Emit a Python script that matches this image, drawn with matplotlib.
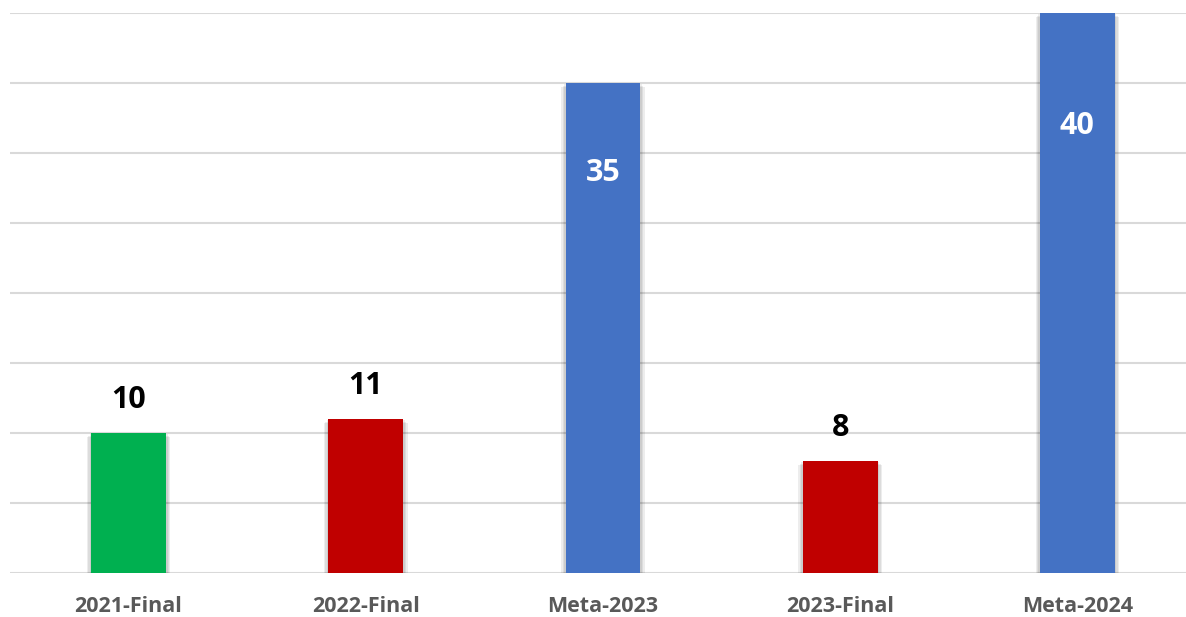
import matplotlib
matplotlib.use("Agg")
import matplotlib.pyplot as plt

categories = ["2021-Final", "2022-Final", "Meta-2023", "2023-Final", "Meta-2024"]
values = [10, 11, 35, 8, 40]
colors = ["#00B050", "#C00000", "#4472C4", "#C00000", "#4472C4"]
inside = [False, False, True, False, True]

W, H = 1186, 617
fig = plt.figure(figsize=(W / 100, H / 100), dpi=100)
ax = fig.add_axes([10 / W, 1 - 573 / H, 1 - 10 / W, 560 / H])

x = list(range(len(categories)))
bw = 0.316

# soft shadow
for xi, v in zip(x, values):
    for k in range(3):
        ext = 0.006 * (k + 1)
        ax.bar(xi, v - 0.1 * (k + 1), width=bw + 2 * ext,
               color="black", alpha=0.07, zorder=2, linewidth=0)

ax.bar(x, values, width=bw, color=colors, zorder=3, linewidth=0)

ax.set_ylim(0, 40)
ax.set_xlim(-0.5, 4.5 - 10 / 237.25)
ax.set_yticks(range(0, 41, 5))
ax.yaxis.grid(True, color="#d9d9d9", linewidth=1.5, zorder=0)
ax.tick_params(axis="y", left=False, labelleft=False)
ax.tick_params(axis="x", bottom=False, pad=13)
for s in ax.spines.values():
    s.set_visible(False)
ax.set_xticks(x)
ax.set_xticklabels(categories, fontsize=15.5, fontweight="bold", color="#595959",
                   family="Open Sans")

px = 40 / 560  # data units per pixel
for xi, v, ins in zip(x, values, inside):
    if ins:
        off = {35: 90, 40: 113}.get(v, 90)
        ax.text(xi, v - off * px, str(v), ha="center", va="center", color="white",
                fontsize=22, fontweight="bold", family="Open Sans", zorder=4)
    else:
        ax.text(xi, v + 33 * px, str(v), ha="center", va="center", color="black",
                fontsize=22, fontweight="bold", family="Open Sans", zorder=4, clip_on=False)

fig.savefig("out.png", dpi=100)
